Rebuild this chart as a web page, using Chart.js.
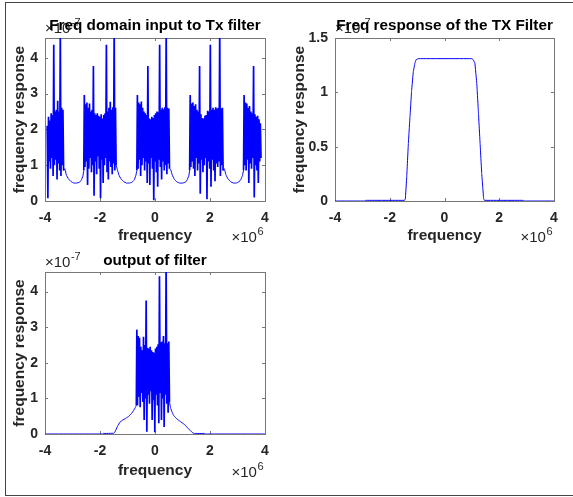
<!DOCTYPE html>
<html>
<head>
<meta charset="utf-8">
<script src="https://cdn.jsdelivr.net/npm/chart.js@4.4.1/dist/chart.umd.min.js"></script>
<style>
  html, body { margin: 0; padding: 0; background: #fff; overflow: hidden; }
  #wrap { position: relative; width: 573px; height: 497px; }
  #wrap canvas { position: absolute; left: 0; top: 0; }
  #frame { position: absolute; left: 5px; top: 2px; width: 600px; height: 492px;
           border: 1px solid #444; border-right: none; }
</style>
</head>
<body>
<div id="wrap">
  <div id="frame"></div>
  <canvas id="c-in" width="573" height="497"></canvas>
  <canvas id="c-filt" width="573" height="497"></canvas>
  <canvas id="c-out" width="573" height="497"></canvas>
</div>
<script>
// x values in units of 1e6, y values in units of 1e-7 (as on the axes)
const xTicks = [-4, -2, 0, 2, 4];
const yTicksIn = [0, 1, 2, 3, 4];
const yTicksFilt = [0, 0.5, 1, 1.5];

// Freq domain input: five noisy bands, upper / lower swings
const inBands = [[-3.92, -3.30], [-2.57, -1.39], [-0.64, 0.55], [1.28, 2.50], [3.24, 3.88]];
const inHi1 = [2.1, 2.35, 2.25, 2.45, 2.4, 4.36, 2.5, 2.55, 2.8, 2.5, 4.8, 2.6, 2.55];
const inLo1 = [0.08, 1.1, 0.9, 1.2, 0.7, 1.0, 1.15, 0.6, 1.05, 0.85, 0.7, 1.0, 0.85];
const inHi2 = [2.96, 2.7, 2.75, 2.6, 2.72, 2.5, 2.55, 3.77, 2.45, 2.4, 2.45, 2.38, 2.35, 2.42, 2.3, 2.4, 2.45, 4.36, 2.5, 2.6, 2.77, 2.55, 2.62, 4.8, 2.6];
const inLo2 = [0.95, 1.1, 0.45, 0.9, 1.2, 0.8, 1.0, 0.15, 1.1, 0.75, 1.25, 0.9, 0.08, 1.15, 0.5, 1.0, 1.2, 0.8, 0.6, 1.1, 0.95, 0.75, 1.05, 0.85, 1.0];
const inHi3 = [2.96, 2.75, 2.7, 2.78, 2.6, 2.5, 2.45, 2.4, 3.77, 2.3, 2.28, 2.35, 2.32, 2.4, 2.45, 2.5, 2.48, 4.36, 2.55, 2.6, 2.56, 2.62, 4.8, 2.6, 2.58];
const inLo3 = [0.9, 1.15, 0.7, 1.0, 1.2, 0.85, 1.1, 0.5, 1.05, 0.45, 1.2, 0.9, 0.02, 1.1, 0.8, 0.4, 1.15, 0.95, 0.6, 1.1, 0.85, 1.0, 0.75, 1.05, 0.9];
const inHi4 = [2.96, 2.72, 2.75, 2.65, 2.7, 2.55, 2.5, 3.77, 2.42, 2.32, 2.3, 2.38, 2.4, 2.52, 2.5, 4.36, 2.55, 2.6, 2.55, 2.62, 2.58, 2.6, 4.8, 2.58, 2.6];
const inLo4 = [0.95, 1.1, 0.9, 0.7, 1.2, 0.85, 1.05, 0.2, 1.15, 0.8, 1.0, 1.2, 0.05, 1.1, 0.9, 0.4, 1.15, 0.85, 0.55, 1.05, 0.95, 1.1, 0.7, 1.0, 0.85];
const inHi5 = [2.96, 2.75, 2.72, 2.6, 2.65, 2.5, 2.45, 3.77, 2.42, 2.35, 2.38, 2.28, 2.17];
const inLo5 = [1.0, 0.85, 1.15, 0.5, 1.05, 0.9, 1.2, 0.1, 1.0, 0.85, 0.5, 1.1, 1.2];
// smooth dips between the bands
const gapX1 = [-3.28, -3.22, -3.15, -3.05, -2.95, -2.85, -2.75, -2.68, -2.62, -2.59];
const gapY1 = [0.9, 0.72, 0.62, 0.54, 0.5, 0.5, 0.52, 0.58, 0.7, 0.85];
const gapX2 = [-1.37, -1.31, -1.24, -1.14, -1.04, -0.94, -0.84, -0.76, -0.70, -0.66];
const gapY2 = [0.88, 0.72, 0.62, 0.54, 0.5, 0.5, 0.52, 0.58, 0.7, 0.85];
const gapX3 = [0.57, 0.63, 0.70, 0.80, 0.90, 1.00, 1.10, 1.17, 1.23, 1.26];
const gapY3 = [0.88, 0.72, 0.61, 0.53, 0.5, 0.5, 0.52, 0.59, 0.7, 0.86];
const gapX4 = [2.52, 2.58, 2.65, 2.75, 2.85, 2.95, 3.05, 3.12, 3.18, 3.22];
const gapY4 = [0.9, 0.73, 0.62, 0.54, 0.5, 0.5, 0.53, 0.6, 0.71, 0.86];

// TX filter response
const filtX = [-4, -2.9, -2.88, -1.46, -1.43, -1.38, -1.32, -1.26, -1.2, -1.14, -1.08, -1.04, -0.96, 1.0, 1.05, 1.11, 1.18, 1.24, 1.30, 1.36, 1.43, 1.46, 2.88, 2.9, 4];
const filtY = [0, 0, 0.006, 0.006, 0.02, 0.22, 0.53, 0.78, 1.02, 1.19, 1.27, 1.30, 1.31, 1.31, 1.30, 1.27, 1.08, 0.81, 0.53, 0.25, 0.02, 0.006, 0.006, 0, 0];

// output of filter
const outLeftX = [-4, -1.9, -1.88, -1.5, -1.46, -1.42, -1.36, -1.28, -1.18, -1.06, -0.95, -0.85, -0.78, -0.72, -0.68];
const outLeftY = [0, 0, 0.015, 0.02, 0.05, 0.12, 0.22, 0.33, 0.39, 0.44, 0.5, 0.58, 0.66, 0.74, 0.8];
const outBand = [-0.66, 0.55];
const outHi = [2.91, 2.75, 2.7, 2.45, 2.35, 2.73, 2.5, 3.75, 2.42, 2.4, 2.45, 2.35, 2.3, 2.28, 2.4, 2.45, 2.52, 4.43, 2.58, 2.6, 2.75, 2.55, 4.8, 2.55, 2.6];
const outLo = [0.8, 1.05, 0.75, 1.15, 0.9, 0.39, 1.0, 0.06, 1.1, 0.85, 1.2, 0.39, 0.95, 0.05, 1.1, 0.8, 0.3, 1.15, 0.39, 1.0, 0.2, 1.1, 0.85, 0.6, 0.9];
const outRightX = [0.57, 0.62, 0.67, 0.76, 0.85, 0.94, 1.03, 1.1, 1.15, 1.21, 1.27, 1.33, 1.38, 1.42, 1.8, 1.82, 4];
const outRightY = [0.72, 0.62, 0.53, 0.45, 0.39, 0.34, 0.29, 0.25, 0.2, 0.15, 0.11, 0.06, 0.03, 0.015, 0.015, 0, 0];

// spread the hi/lo swings of a band over its range (alternating up / down)
function band(range, hi, lo) {
  const step = (range[1] - range[0]) / hi.length;
  const pts = [];
  hi.forEach((h, i) => {
    pts.push({ x: range[0] + i * step, y: h });
    pts.push({ x: range[0] + (i + 0.5) * step, y: lo[i] });
  });
  return pts;
}
function curve(xs, ys) {
  return xs.map((x, i) => ({ x: x, y: ys[i] }));
}

const inSeries = [].concat(
  band(inBands[0], inHi1, inLo1), curve(gapX1, gapY1),
  band(inBands[1], inHi2, inLo2), curve(gapX2, gapY2),
  band(inBands[2], inHi3, inLo3), curve(gapX3, gapY3),
  band(inBands[3], inHi4, inLo4), curve(gapX4, gapY4),
  band(inBands[4], inHi5, inLo5)
);
const filtSeries = curve(filtX, filtY);
const outSeries = [].concat(curve(outLeftX, outLeftY), band(outBand, outHi, outLo), curve(outRightX, outRightY));

const W = 573, H = 497;
const FONT = "'Liberation Sans', Arial, Helvetica, sans-serif";
const tickFont = { family: FONT, size: 14, weight: 'bold' };

function drawPow(ctx, x, y, base, sup, alignRight) {
  ctx.font = '15px ' + FONT;
  const wb = ctx.measureText(base).width;
  ctx.font = '11px ' + FONT;
  const ws = ctx.measureText(sup).width;
  const x0 = alignRight ? x - wb - ws : x;
  ctx.textAlign = 'left';
  ctx.font = '15px ' + FONT;
  ctx.fillText(base, x0, y);
  ctx.font = '11px ' + FONT;
  ctx.fillText(sup, x0 + wb + 0.5, y - 6);
}

// dense up/down swings get a slightly heavier stroke so the bands read solid
const swingWidth = ctx => {
  const dx = Math.abs(ctx.p1.parsed.x - ctx.p0.parsed.x);
  const dy = Math.abs(ctx.p1.parsed.y - ctx.p0.parsed.y);
  return dx < 0.04 && dy > 0.3 ? 1.7 : 1;
};

// MATLAB-like box, inner ticks, titles and labels
const matlabAxes = {
  id: 'matlabAxes',
  beforeDatasetsDraw(chart) {
    const { ctx, chartArea: a, scales: { x, y } } = chart;
    ctx.save();
    ctx.strokeStyle = '#777';
    ctx.lineWidth = 1;
    ctx.strokeRect(a.left + 0.5, a.top + 0.5, a.right - a.left, a.bottom - a.top);
    ctx.beginPath();
    x.ticks.forEach(t => {
      const px = Math.round(x.getPixelForValue(t.value)) + 0.5;
      ctx.moveTo(px, a.bottom); ctx.lineTo(px, a.bottom - 3);
      ctx.moveTo(px, a.top); ctx.lineTo(px, a.top + 3);
    });
    y.ticks.forEach(t => {
      const py = Math.round(y.getPixelForValue(t.value)) + 0.5;
      ctx.moveTo(a.left, py); ctx.lineTo(a.left + 3, py);
      ctx.moveTo(a.right, py); ctx.lineTo(a.right - 3, py);
    });
    ctx.stroke();
    ctx.restore();
  },
  afterDraw(chart, args, o) {
    const { ctx, chartArea: a } = chart;
    const cx = (a.left + a.right) / 2;
    ctx.save();
    ctx.textBaseline = 'middle';
    ctx.fillStyle = '#262626';
    drawPow(ctx, a.left, a.top - 9, '\u00d710', '-7', false);
    drawPow(ctx, a.right - 2, a.bottom + o.powGap, '\u00d710', '6', true);
    ctx.font = 'bold 15.5px ' + FONT;
    ctx.textAlign = 'center';
    ctx.fillText('frequency', cx, a.bottom + o.xLabelGap);
    ctx.save();
    ctx.translate(a.left - o.yLabelGap, (a.top + a.bottom) / 2);
    ctx.rotate(-Math.PI / 2);
    ctx.fillText('frequency response', 0, 0);
    ctx.restore();
    ctx.fillStyle = '#000';
    ctx.font = 'bold 15.3px ' + FONT;
    ctx.fillText(o.title, cx, a.top - o.titleGap);
    ctx.restore();
  }
};

function axesChart(id, series, area, yMax, yTicks, deco, noisy) {
  return new Chart(document.getElementById(id), {
    type: 'line',
    data: {
      datasets: [{
        data: series,
        borderColor: '#0000ff',
        borderWidth: 1,
        pointRadius: 0,
        tension: 0.001, // keeps every zigzag segment (no per-pixel collapsing)
        fill: false,
        segment: noisy ? { borderWidth: swingWidth } : {}
      }]
    },
    options: {
      responsive: false,
      animation: false,
      events: [],
      layout: { padding: { left: area.left - 45, top: area.top, right: W - area.right, bottom: 0 } },
      plugins: {
        legend: { display: false },
        tooltip: { enabled: false },
        matlabAxes: deco
      },
      scales: {
        x: {
          type: 'linear', min: -4, max: 4,
          grid: { display: false, drawTicks: false },
          border: { display: false },
          afterBuildTicks: s => { s.ticks = xTicks.map(v => ({ value: v })); },
          afterFit: s => { s.height = H - area.bottom; },
          ticks: { padding: 9, font: tickFont, color: '#262626', maxRotation: 0, autoSkip: false,
                   callback: v => String(v) }
        },
        y: {
          type: 'linear', min: 0, max: yMax,
          grid: { display: false, drawTicks: false },
          border: { display: false },
          afterBuildTicks: s => { s.ticks = yTicks.map(v => ({ value: v })); },
          afterFit: s => { s.width = 45; },
          ticks: { padding: 7, font: tickFont, color: '#262626', autoSkip: false,
                   callback: v => String(v) }
        }
      }
    },
    plugins: [matlabAxes]
  });
}

axesChart('c-in', inSeries, { left: 45, top: 38, right: 265, bottom: 201 }, 4.55, yTicksIn,
  { title: 'Freq domain input to Tx filter', titleGap: 12, xLabelGap: 35, powGap: 37, yLabelGap: 25 }, true);
axesChart('c-filt', filtSeries, { left: 335, top: 38, right: 554, bottom: 201 }, 1.5, yTicksFilt,
  { title: 'Freq response of the TX Filter', titleGap: 12, xLabelGap: 35, powGap: 37, yLabelGap: 35 }, false);
axesChart('c-out', outSeries, { left: 45, top: 272, right: 265, bottom: 434 }, 4.55, yTicksIn,
  { title: 'output of filter', titleGap: 11, xLabelGap: 37, powGap: 39, yLabelGap: 25 }, true);
</script>
</body>
</html>
